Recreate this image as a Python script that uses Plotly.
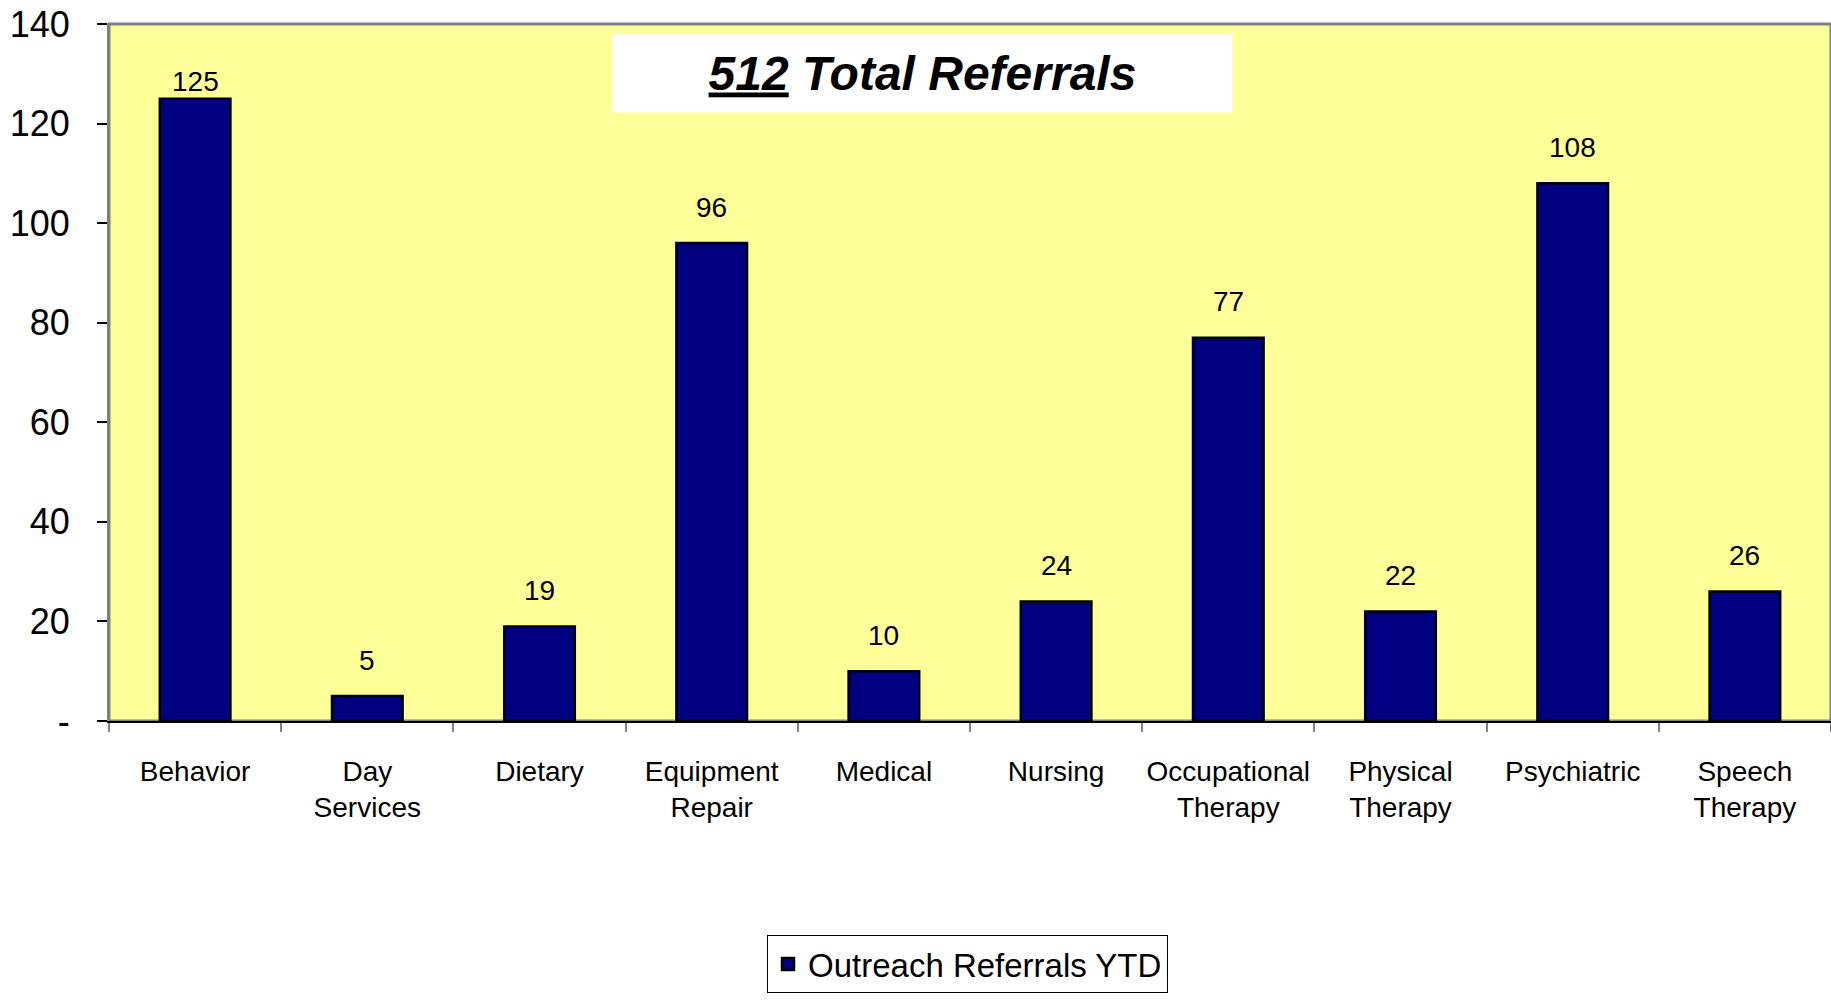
import plotly.graph_objects as go

categories = ["Behavior", "Day<br>Services", "Dietary", "Equipment<br>Repair", "Medical",
              "Nursing", "Occupational<br>Therapy", "Physical<br>Therapy", "Psychiatric",
              "Speech<br>Therapy"]
referrals = [125, 5, 19, 96, 10, 24, 77, 22, 108, 26]
series_name = "Outreach Referrals YTD"
y_tick_values = [0, 20, 40, 60, 80, 100, 120, 140]
y_tick_labels = ["-", "20", "40", "60", "80", "100", "120", "140"]
total_referrals = 512

FONT = "Liberation Sans, Arial, sans-serif"

fig = go.Figure()
fig.add_trace(go.Bar(
    x=categories, y=referrals, name=series_name,
    marker=dict(color="#000080", line=dict(color="black", width=2.5)),
    width=0.41,
))

# data labels above bars
top_val = max(referrals)
for c, v in zip(categories, referrals):
    fig.add_annotation(x=c, y=v, text=str(v), showarrow=False,
                       xref="x", yref="y", yanchor="middle",
                       yshift=17 if v == top_val else 36,
                       font=dict(family=FONT, size=28, color="black"))

# title box
fig.add_annotation(xref="paper", yref="paper", x=0.4724, y=0.9297,
                   xanchor="center", yanchor="middle",
                   text=f"<b><i><u>{total_referrals}</u> Total Referrals</i></b>",
                   showarrow=False, bgcolor="white", width=619, height=78,
                   borderpad=0, font=dict(family=FONT, size=48, color="black"))

# plot area border (gray)
fig.add_shape(type="rect", xref="paper", yref="paper", x0=0, y0=0, x1=1, y1=1,
              line=dict(color="#808080", width=3), layer="below")

fig.update_layout(
    width=1831, height=1002,
    margin=dict(l=109, r=0, t=24, b=281, pad=0, autoexpand=False),
    plot_bgcolor="#FFFF99", paper_bgcolor="white",
    font=dict(family=FONT, color="black"),
    showlegend=True,
    legend=dict(orientation="h", xref="container", yref="container",
                x=0.5284, y=0.0669, xanchor="center", yanchor="top",
                bordercolor="black", borderwidth=1, bgcolor="white",
                font=dict(family=FONT, size=33, color="black")),
    bargap=0.59,
)
fig.update_xaxes(
    type="category", showgrid=False, showline=True, linecolor="black", linewidth=2,
    ticks="outside", tickson="boundaries", ticklen=9, tickcolor="#808080", tickwidth=2,
    tickfont=dict(family=FONT, size=28, color="black"), ticklabelstandoff=24,
    tickangle=0, range=[-0.5, 9.5], automargin=False,
)
fig.update_yaxes(
    range=[0, 140], tickvals=y_tick_values, ticktext=y_tick_labels,
    showgrid=False, zeroline=False, showline=True, linecolor="#808080", linewidth=2,
    ticks="outside", ticklen=10, tickcolor="black", tickwidth=2,
    tickfont=dict(family=FONT, size=36, color="black"), ticklabelstandoff=20,
    ticklabeloverflow="allow", automargin=False,
)

fig.write_html("out.html", config={"displayModeBar": False},
               post_script="document.body.style.margin='0';document.body.style.overflow='hidden';")
